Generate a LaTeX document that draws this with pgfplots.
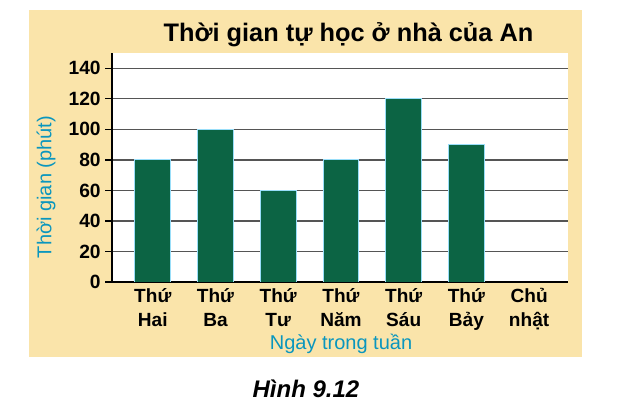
\documentclass[border=0pt]{standalone}
\usepackage{fontspec}
\setmainfont{Liberation Sans}
\usepackage{pgfplots}
\pgfplotsset{compat=1.18}
\definecolor{beige}{RGB}{250,228,170}
\definecolor{bargreen}{RGB}{12,100,68}
\definecolor{labelteal}{RGB}{10,150,190}
\definecolor{gridgray}{RGB}{85,85,85}
\begin{document}
\begin{tikzpicture}
\begin{scope}[x=0.75pt,y=0.75pt]
\path[use as bounding box] (0,0) rectangle (636,406);
\fill[beige] (29,49) rectangle (582,396);
\end{scope}
\begin{axis}[
 at={(84pt,93pt)}, anchor=south west,
 scale only axis, width=342pt, height=171.75pt,
 xmin=-0.65, xmax=6.62, ymin=0, ymax=150,
 axis background/.style={fill=white},
 axis x line*=bottom, axis y line*=left,
 axis line style={black, line width=1.5pt, -},
 ytick={0,20,...,140},
 ymajorgrids, major grid style={gridgray, line width=1pt},
 xtick={0,...,6},
 xticklabels={{Thứ\\Hai},{Thứ\\Ba},{Thứ\\Tư},{Thứ\\Năm},{Thứ\\Sáu},{Thứ\\Bảy},{Chủ\\nhật}},
 xticklabel style={align=center, yshift=4pt, font=\bfseries\fontsize{14.3}{18}\selectfont},
 yticklabel style={font=\bfseries\fontsize{14.4}{17}\selectfont},
 /pgf/number format/assume math mode=true,
 x tick style={draw=none},
 y tick style={black, line width=1pt},
 tick align=outside, major tick length=5pt,
]
\addplot[ybar, bar width=0.57, fill=bargreen, draw=cyan!40, line width=0.6pt] coordinates {(0,80) (1,100) (2,60) (3,80) (4,120) (5,90)};
\end{axis}
\begin{scope}[x=0.75pt,y=0.75pt]
\node[anchor=base, font=\bfseries\fontsize{19}{22}\selectfont] at (348.5,364) {Thời gian tự học ở nhà của An};
\node[rotate=90, text=labelteal, font=\fontsize{15}{18}\selectfont] at (46,219) {Thời gian (phút)};
\node[anchor=base, text=labelteal, font=\fontsize{15}{18}\selectfont] at (341,56) {Ngày trong tuần};
\node[anchor=base, font=\bfseries\itshape\fontsize{18}{22}\selectfont] at (306,8) {Hình 9.12};
\end{scope}
\end{tikzpicture}
\end{document}
